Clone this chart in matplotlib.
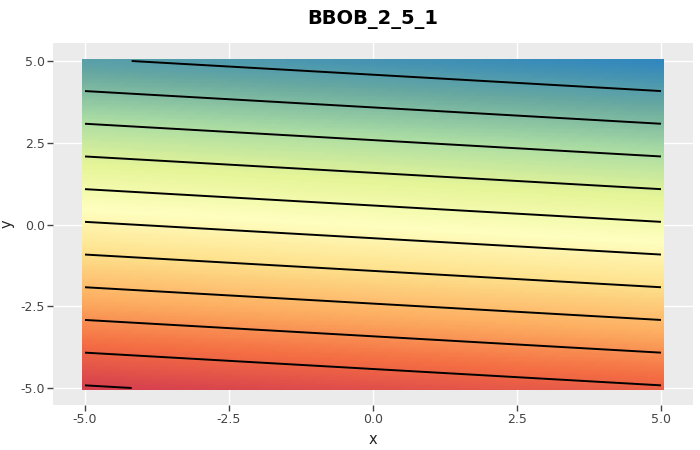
import matplotlib
matplotlib.use("Agg")
import matplotlib.pyplot as plt
from matplotlib.colors import LinearSegmentedColormap
from matplotlib.patches import Rectangle
import numpy as np

# function values at the corners of the domain (plane, so corners are enough)
x_pts = [-5.0, 5.0]
y_pts = [-5.0, 5.0]
f_vals = [[-9.21, 0.79],     # y = -5
          [90.79, 100.79]]   # y = 5

# contour levels
levels = [-8.4, 1.6, 11.6, 21.6, 31.6, 41.6, 51.6, 61.6, 71.6, 81.6, 91.6]

tick_vals = [-5.0, -2.5, 0.0, 2.5, 5.0]
tick_labels = ["-5.0", "-2.5", "0.0", "2.5", "5.0"]

spectral9 = ["#d53e4f", "#f46d43", "#fdae61", "#fee08b", "#ffffbf",
             "#e6f598", "#abdda4", "#6aaaa0", "#3288bd"]
cmap = LinearSegmentedColormap.from_list("spectral9", spectral9)

fig = plt.figure(figsize=(7, 4.5), dpi=100)
ax = fig.add_axes([0.0757, 0.1, 0.9143, 0.8044])
ax.set_facecolor("#ebebeb")

z = np.array(f_vals)
# image pixels centred on the corner points, bilinear fill in between
half_x = (x_pts[1] - x_pts[0]) / 2
half_y = (y_pts[1] - y_pts[0]) / 2
im = ax.imshow(z, origin="lower", cmap=cmap, interpolation="bilinear",
               interpolation_stage="data",
               extent=[x_pts[0] - half_x, x_pts[1] + half_x,
                       y_pts[0] - half_y, y_pts[1] + half_y],
               aspect="auto", zorder=2)
clip = Rectangle((-5.05, -5.05), 10.1, 10.1, transform=ax.transData)
im.set_clip_path(clip)

X, Y = np.meshgrid(x_pts, y_pts)
ax.contour(X, Y, z, levels=levels, colors="black", linewidths=1.4,
           linestyles="solid", zorder=3)

ax.set_xlim(-5.556, 5.556)
ax.set_ylim(-5.52, 5.55)
ax.set_xticks(tick_vals)
ax.set_xticklabels(tick_labels)
ax.set_yticks(tick_vals)
ax.set_yticklabels(tick_labels)
ax.grid(True, color="white", linewidth=1.0, zorder=1)
ax.set_axisbelow(True)
for s in ax.spines.values():
    s.set_visible(False)
ax.tick_params(colors="#444444", labelsize=9, length=4, width=1,
               labelcolor="#444444", pad=2)

ax.set_xlabel("x", fontsize=10.5, color="#222222", labelpad=4)
ax.set_ylabel("y", fontsize=10.5, color="#222222", labelpad=4)
fig.suptitle("BBOB_2_5_1", x=0.533, y=0.978, fontsize=14, fontweight="bold")

fig.savefig("out.png", dpi=100)
